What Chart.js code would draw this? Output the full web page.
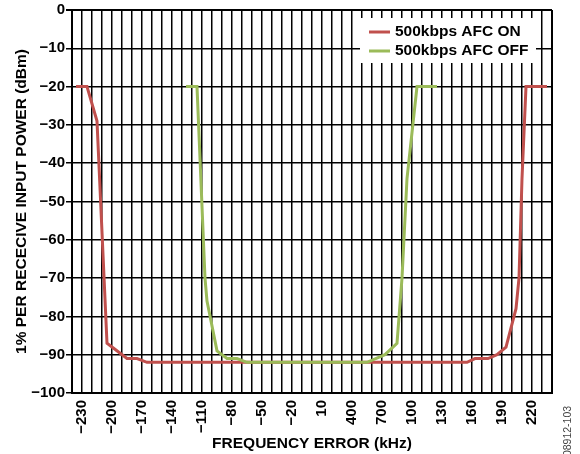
<!DOCTYPE html>
<html>
<head>
<meta charset="utf-8">
<script src="https://cdn.jsdelivr.net/npm/chart.js@4.4.1/dist/chart.umd.min.js"></script>
<style>
  html, body { margin: 0; padding: 0; background: #fff; }
  #wrap { position: relative; width: 580px; height: 454px; }
</style>
</head>
<body>
<div id="wrap"><canvas id="afc-chart" width="580" height="454"></canvas></div>
<script>
const FONT_FAMILY = "'Liberation Sans', Arial, sans-serif";
const RED = '#C0504D';
const GREEN = '#9BBB59';

// tick labels as printed on the original (including its odd "400" / "700")
const xTickValues = [-230, -200, -170, -140, -110, -80, -50, -20, 10, 40, 70, 100, 130, 160, 190, 220];
const xTickLabels = ['−230', '−200', '−170', '−140', '−110', '−80', '−50', '−20', '10', '400', '700', '100', '130', '160', '190', '220'];

// 500kbps AFC ON
const afcOnFreq  = [-236, -225, -215, -205, -200, -185, -175, -165, 155, 163, 176, 185, 194, 204, 207, 210, 214, 235];
const afcOnPower = [-20, -20, -29, -87, -88, -91, -91, -92, -92, -91, -91, -90, -88, -78, -70, -44, -20, -20];

// 500kbps AFC OFF
const afcOffFreq  = [-126, -115, -107, -105, -95, -85, -75, -65, 55, 73, 85, 90, 95, 105, 125];
const afcOffPower = [-20, -20, -70, -76, -89, -91, -91, -92, -92, -90, -87, -70, -44, -20, -20];

const seriesNames = ['500kbps AFC ON', '500kbps AFC OFF'];

function toPoints(xs, ys) {
  return xs.map((x, i) => ({ x: x, y: ys[i] }));
}

function minus(v) {
  return v < 0 ? '−' + Math.abs(v) : String(v);
}

// white legend box drawn inside the plot, over the grid
const boxLegend = {
  id: 'boxLegend',
  beforeDatasetsDraw(chart) {
    const c = chart.ctx;
    c.save();
    c.fillStyle = '#fff';
    c.fillRect(360, 18, 176, 45);
    const rows = [{ y: 32, color: RED }, { y: 51, color: GREEN }];
    rows.forEach((r, i) => {
      c.strokeStyle = r.color;
      c.lineWidth = 3;
      c.beginPath();
      c.moveTo(369, r.y);
      c.lineTo(390, r.y);
      c.stroke();
      c.fillStyle = '#000';
      c.font = 'bold 15.5px ' + FONT_FAMILY;
      c.textBaseline = 'middle';
      c.textAlign = 'left';
      c.fillText(seriesNames[i], 395, r.y);
    });
    c.restore();
  },
  afterDraw(chart) {
    const c = chart.ctx;
    c.save();
    c.translate(568, 431);
    c.rotate(-Math.PI / 2);
    c.fillStyle = '#444';
    c.font = '10.5px ' + FONT_FAMILY;
    c.textAlign = 'center';
    c.textBaseline = 'middle';
    c.fillText('08912-103', 0, 0);
    c.restore();
  }
};

const data = {
  datasets: [{
    label: seriesNames[0],
    data: toPoints(afcOnFreq, afcOnPower),
    borderColor: RED,
    backgroundColor: RED,
    borderWidth: 3,
    pointRadius: 0,
    tension: 0,
    order: 2,
  }, {
    label: seriesNames[1],
    data: toPoints(afcOffFreq, afcOffPower),
    borderColor: GREEN,
    backgroundColor: GREEN,
    borderWidth: 3,
    pointRadius: 0,
    tension: 0,
    order: 1,
  }],
};

const config = {
  type: 'line',
  data: data,
  plugins: [boxLegend],
  options: {
    responsive: false,
    animation: false,
    layout: { padding: { top: 10, right: 28, left: 0, bottom: 0 } },
    plugins: {
      legend: { display: false },
      tooltip: { enabled: false },
    },
    scales: {
      x: {
        type: 'linear',
        min: -240,
        max: 240,
        afterFit: (scale) => { scale.height = 61; },
        afterBuildTicks: (scale) => {
          const ticks = [];
          for (let v = -240; v <= 240; v += 10) ticks.push({ value: v });
          scale.ticks = ticks;
        },
        ticks: {
          autoSkip: false,
          minRotation: 90,
          maxRotation: 90,
          padding: 7,
          color: '#000',
          font: { family: FONT_FAMILY, size: 15, weight: 'bold' },
          callback: (v) => {
            const i = xTickValues.indexOf(v);
            return i >= 0 ? xTickLabels[i] : '';
          },
        },
        grid: {
          color: '#000',
          lineWidth: (ctx) => (ctx.tick && Math.abs(ctx.tick.value) === 240 ? 2 : 1.5),
          drawTicks: false,
        },
        border: { color: '#000', width: 2 },
        title: {
          display: true,
          text: 'FREQUENCY ERROR (kHz)',
          color: '#000',
          font: { family: FONT_FAMILY, size: 15.5, weight: 'bold' },
          padding: { top: 0, bottom: 1 },
        },
      },
      y: {
        min: -100,
        max: 0,
        afterFit: (scale) => { scale.width = 72; },
        ticks: {
          stepSize: 10,
          padding: 1,
          color: '#000',
          font: { family: FONT_FAMILY, size: 15, weight: 'bold' },
          callback: (v) => minus(v),
        },
        grid: {
          color: '#000',
          lineWidth: (ctx) => (ctx.tick && ctx.tick.value === 0 ? 2 : 1.5),
          tickLength: 6,
        },
        border: { color: '#000', width: 2 },
        title: {
          display: true,
          text: '1% PER RECECIVE INPUT POWER (dBm)',
          color: '#000',
          font: { family: FONT_FAMILY, size: 15.5, weight: 'bold' },
          padding: { top: 12, bottom: 0 },
        },
      },
    },
  },
};

const canvas = document.getElementById('afc-chart');
const afcChart = new Chart(canvas, config);
</script>
</body>
</html>
